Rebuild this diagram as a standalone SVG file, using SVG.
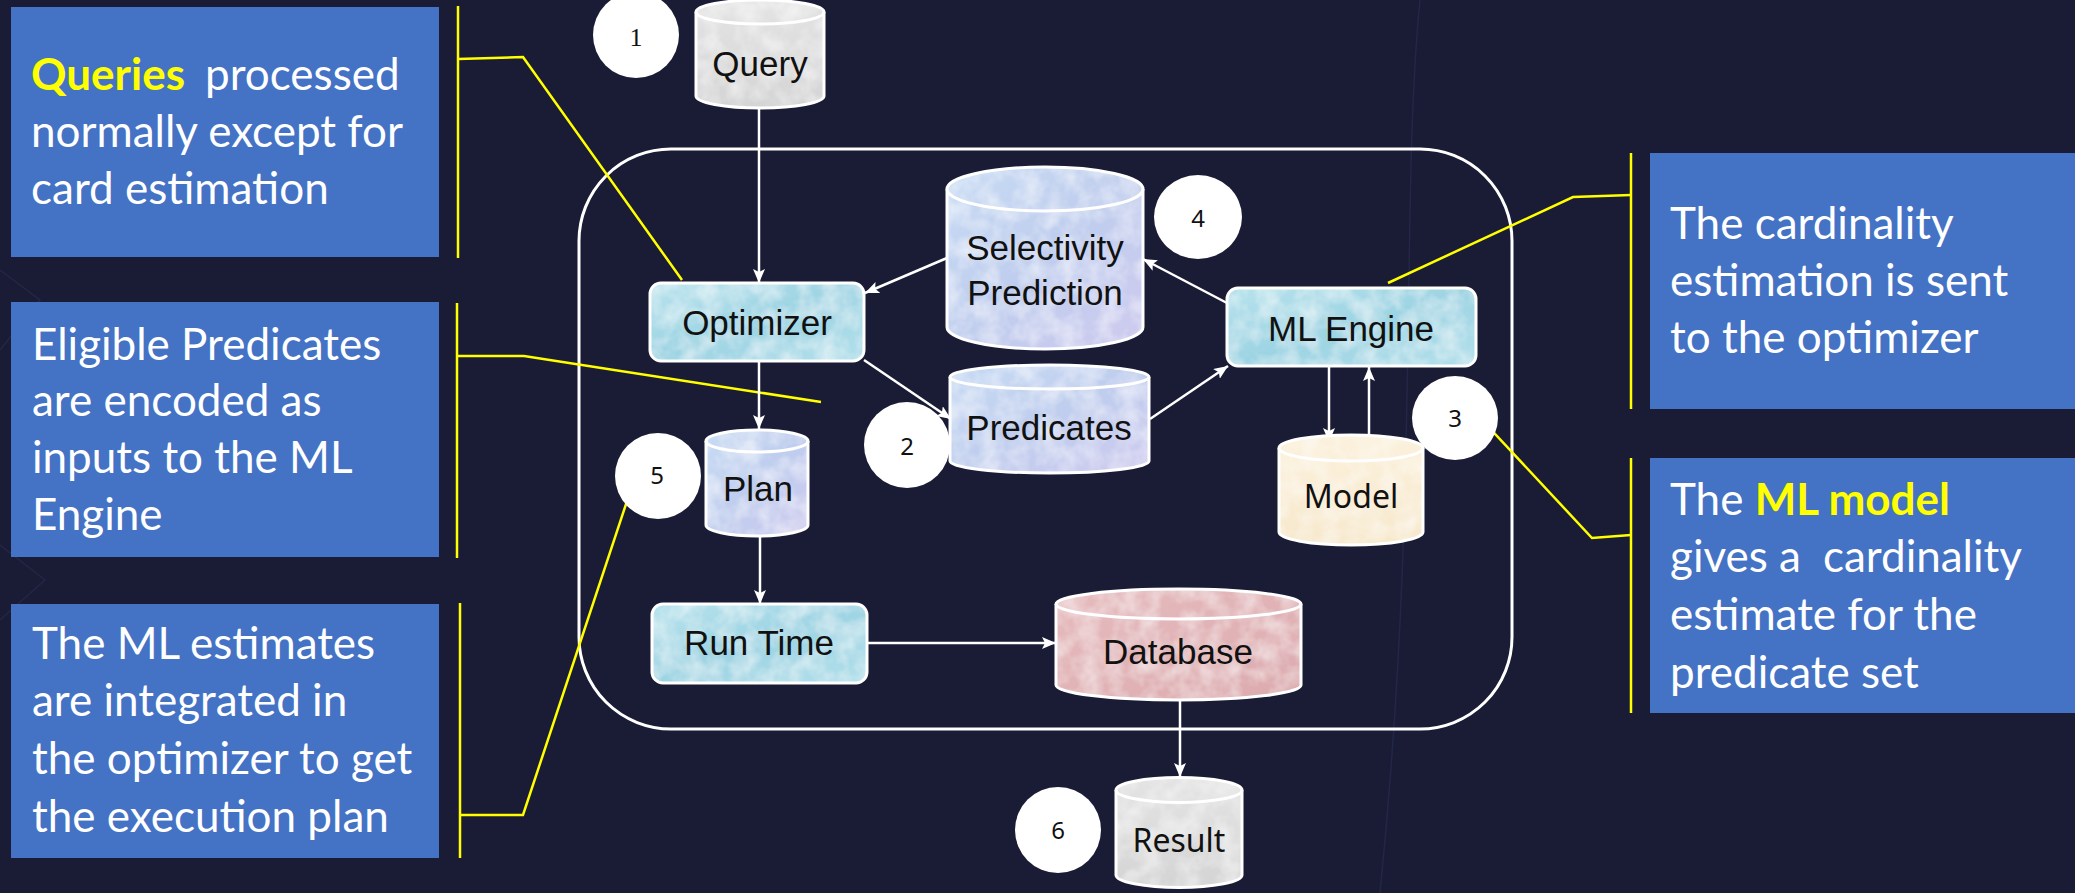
<svg xmlns="http://www.w3.org/2000/svg" width="2075" height="893" viewBox="0 0 2075 893">
<style>
.bg{fill:#1a1b35}
.box{fill:#4472C4}
.bt{font-family:Lato,"Liberation Sans",sans-serif;font-size:44px;fill:#ffffff}
.hl{fill:#FFFF00;font-weight:bold}
.yl{stroke:#FFFF00;stroke-width:2.5;fill:none}
.frame{fill:none;stroke:#ffffff;stroke-width:3}
.edge{stroke:#ffffff;stroke-width:2.5;fill:none;marker-end:url(#ah)}
.ol{fill:none;stroke:#ffffff;stroke-width:3}
.nt{font-family:"Liberation Sans",Arial,sans-serif;font-size:35px;fill:#111111;text-anchor:middle}
.nt2{font-family:"Noto Sans","Open Sans",sans-serif;font-size:32px;fill:#111111;text-anchor:middle}
.circ{fill:#ffffff}
.num{font-family:"Noto Sans",sans-serif;font-size:24px;fill:#111111;text-anchor:middle}
.num1{font-family:"Liberation Serif",serif;font-size:26px;fill:#111111;text-anchor:middle}
</style>
<defs>
<marker id="ah" viewBox="0 0 14 12" refX="14" refY="6" markerWidth="14" markerHeight="12" markerUnits="userSpaceOnUse" orient="auto">
<path d="M0,0 L14,6 L0,12 L3,6 Z" fill="#ffffff"/>
</marker>
<filter id="tex" x="0" y="0" width="100%" height="100%">
<feTurbulence type="fractalNoise" baseFrequency="0.05" numOctaves="3" seed="4" result="n"/>
<feColorMatrix in="n" type="matrix" values="0 0 0 0 1  0 0 0 0 1  0 0 0 0 1  0.9 0 0 0 -0.3" result="w"/>
<feComposite in="w" in2="SourceGraphic" operator="in" result="wi"/>
<feMerge><feMergeNode in="SourceGraphic"/><feMergeNode in="wi"/></feMerge>
</filter>
<linearGradient id="gAqua" x1="0" y1="0" x2="1" y2="1">
<stop offset="0" stop-color="#b8e3ed"/><stop offset="0.5" stop-color="#9dd4e3"/><stop offset="1" stop-color="#b3e0eb"/>
</linearGradient>
<linearGradient id="gLav" x1="0" y1="0" x2="1" y2="1">
<stop offset="0" stop-color="#c8dcf4"/><stop offset="0.5" stop-color="#bfcdee"/><stop offset="1" stop-color="#cfcbef"/>
</linearGradient>
<linearGradient id="gGray" x1="0" y1="0" x2="0" y2="1">
<stop offset="0" stop-color="#e4e4e4"/><stop offset="1" stop-color="#d4d4d4"/>
</linearGradient>
<linearGradient id="gCream" x1="0" y1="0" x2="0" y2="1">
<stop offset="0" stop-color="#fbf1dc"/><stop offset="1" stop-color="#f7e8cc"/>
</linearGradient>
<linearGradient id="gPink" x1="0" y1="0" x2="1" y2="1">
<stop offset="0" stop-color="#e6bcbf"/><stop offset="1" stop-color="#dcaaae"/>
</linearGradient>
</defs>

<rect class="bg" x="0" y="0" width="2075" height="893"/>
<g opacity="0.25" stroke="#3a4a7a" stroke-width="1.5" fill="none">
<path d="M0,350 L40,300 L0,270"/>
<path d="M0,620 L45,580 L0,545"/>
<path d="M1420,0 C1400,200 1420,500 1380,893"/>
</g>

<!-- callout boxes -->
<g id="note-queries">
<rect class="box" x="11" y="7" width="428" height="250"/>
<text class="bt" x="31" y="90"><tspan class="hl">Queries</tspan><tspan dx="20">processed</tspan></text>
<text class="bt" x="31" y="147">normally except for</text>
<text class="bt" x="31" y="204">card estimation</text>
</g>
<g id="note-predicates">
<rect class="box" x="11" y="302" width="428" height="255"/>
<text class="bt" x="32" y="360">Eligible Predicates</text>
<text class="bt" x="32" y="416">are encoded as</text>
<text class="bt" x="32" y="473">inputs to the ML</text>
<text class="bt" x="32" y="530">Engine</text>
</g>
<g id="note-estimates">
<rect class="box" x="11" y="604" width="428" height="254"/>
<text class="bt" x="32" y="659">The ML estimates</text>
<text class="bt" x="32" y="716">are integrated in</text>
<text class="bt" x="32" y="774">the optimizer to get</text>
<text class="bt" x="32" y="832">the execution plan</text>
</g>
<g id="note-cardinality">
<rect class="box" x="1650" y="153" width="425" height="256"/>
<text class="bt" x="1670" y="239">The cardinality</text>
<text class="bt" x="1670" y="296">estimation is sent</text>
<text class="bt" x="1670" y="353">to the optimizer</text>
</g>
<g id="note-mlmodel">
<rect class="box" x="1650" y="458" width="425" height="255"/>
<text class="bt" x="1670" y="515">The <tspan class="hl">ML model</tspan></text>
<text class="bt" x="1670" y="572">gives a<tspan dx="22">cardinality</tspan></text>
<text class="bt" x="1670" y="630">estimate for the</text>
<text class="bt" x="1670" y="688">predicate set</text>
</g>

<!-- frame -->
<rect class="frame" x="579" y="149" width="933" height="580" rx="92" ry="92"/>

<!-- callout lines -->
<g id="callouts">
<line class="yl" x1="458" y1="6" x2="458" y2="258"/>
<polyline class="yl" points="458,59 523,57 682,280"/>
<line class="yl" x1="457" y1="303" x2="457" y2="558"/>
<polyline class="yl" points="457,356 524,356 821,402"/>
<line class="yl" x1="460" y1="603" x2="460" y2="858"/>
<polyline class="yl" points="460,815 523,815 633,483"/>
<line class="yl" x1="1631" y1="153" x2="1631" y2="409"/>
<polyline class="yl" points="1631,195 1573,197 1388,283"/>
<line class="yl" x1="1631" y1="458" x2="1631" y2="713"/>
<polyline class="yl" points="1631,535 1592,538 1455,391"/>
</g>

<!-- connectors -->
<g id="connectors">
<line class="edge" x1="759" y1="108" x2="759" y2="283"/>
<line class="edge" x1="759" y1="361" x2="759" y2="429"/>
<line class="edge" x1="760" y1="536" x2="760" y2="604"/>
<line class="edge" x1="867" y1="643" x2="1056" y2="643"/>
<line class="edge" x1="1180" y1="700" x2="1180" y2="777"/>
<line class="edge" x1="864" y1="360" x2="951" y2="419"/>
<line class="edge" x1="947" y1="258" x2="865" y2="293"/>
<line class="edge" x1="1227" y1="303" x2="1143" y2="259"/>
<line class="edge" x1="1150" y1="419" x2="1228" y2="366"/>
<line class="edge" x1="1329" y1="367" x2="1329" y2="442"/>
<line class="edge" x1="1369" y1="438" x2="1369" y2="367"/>
</g>

<!-- number circles -->
<g id="step1"><ellipse class="circ" cx="636" cy="35" rx="43" ry="43"/><text class="num1" x="636" y="46">1</text></g>
<g id="step2"><ellipse class="circ" cx="907" cy="445" rx="43" ry="43"/><text class="num" x="907" y="455">2</text></g>
<g id="step3"><ellipse class="circ" cx="1455" cy="418" rx="43" ry="42"/><text class="num" x="1455" y="427">3</text></g>
<g id="step4"><ellipse class="circ" cx="1198" cy="217" rx="44" ry="42"/><text class="num" x="1198" y="227">4</text></g>
<g id="step5"><ellipse class="circ" cx="658" cy="476" rx="43" ry="43"/><text class="num" x="657" y="484">5</text></g>
<g id="step6"><ellipse class="circ" cx="1058" cy="830" rx="43" ry="43"/><text class="num" x="1058" y="839">6</text></g>

<!-- Query cylinder -->
<g id="query">
<path d="M696,12 L696,96 A64,12 0 0 0 824,96 L824,12 A64,12 0 0 0 696,12 Z" fill="url(#gGray)" filter="url(#tex)"/>
<path class="ol" d="M696,12 L696,96 A64,12 0 0 0 824,96 L824,12"/>
<ellipse class="ol" cx="760" cy="12" rx="64" ry="12"/>
<text class="nt" x="760" y="76" font-size="34">Query</text>
</g>

<!-- Optimizer -->
<g id="optimizer">
<rect x="650" y="283" width="214" height="78" rx="11" fill="url(#gAqua)" filter="url(#tex)"/>
<rect class="ol" x="650" y="283" width="214" height="78" rx="11"/>
<text class="nt" x="757" y="335" font-size="36">Optimizer</text>
</g>

<!-- Selectivity Prediction -->
<g id="selectivity">
<path d="M947,189 L947,327 A98,22 0 0 0 1143,327 L1143,189 A98,22 0 0 0 947,189 Z" fill="url(#gLav)" filter="url(#tex)"/>
<path class="ol" d="M947,189 L947,327 A98,22 0 0 0 1143,327 L1143,189"/>
<ellipse class="ol" cx="1045" cy="189" rx="98" ry="22"/>
<text class="nt" x="1045" y="260" font-size="36">Selectivity</text>
<text class="nt" x="1045" y="305" font-size="36">Prediction</text>
</g>

<!-- ML Engine -->
<g id="mlengine">
<rect x="1227" y="288" width="249" height="78" rx="11" fill="url(#gAqua)" filter="url(#tex)"/>
<rect class="ol" x="1227" y="288" width="249" height="78" rx="11"/>
<text class="nt" x="1351" y="341">ML Engine</text>
</g>

<!-- Predicates -->
<g id="predicates">
<path d="M950,377 L950,461 A99.5,12 0 0 0 1149,461 L1149,377 A99.5,12 0 0 0 950,377 Z" fill="url(#gLav)" filter="url(#tex)"/>
<path class="ol" d="M950,377 L950,461 A99.5,12 0 0 0 1149,461 L1149,377"/>
<ellipse class="ol" cx="1049.5" cy="377" rx="99.5" ry="12"/>
<text class="nt" x="1049" y="440">Predicates</text>
</g>

<!-- Plan -->
<g id="plan">
<path d="M706,441 L706,525 A51,11 0 0 0 808,525 L808,441 A51,11 0 0 0 706,441 Z" fill="url(#gLav)" filter="url(#tex)"/>
<path class="ol" d="M706,441 L706,525 A51,11 0 0 0 808,525 L808,441"/>
<ellipse class="ol" cx="757" cy="441" rx="51" ry="11"/>
<text class="nt" x="758" y="501">Plan</text>
</g>

<!-- Model -->
<g id="model">
<path d="M1279,448 L1279,532 A72,13 0 0 0 1423,532 L1423,448 A72,13 0 0 0 1279,448 Z" fill="url(#gCream)" filter="url(#tex)"/>
<path class="ol" d="M1279,448 L1279,532 A72,13 0 0 0 1423,532 L1423,448"/>
<ellipse class="ol" cx="1351" cy="448" rx="72" ry="13"/>
<text class="nt2" x="1351" y="508">Model</text>
</g>

<!-- Run Time -->
<g id="runtime">
<rect x="652" y="604" width="215" height="79" rx="11" fill="url(#gAqua)" filter="url(#tex)"/>
<rect class="ol" x="652" y="604" width="215" height="79" rx="11"/>
<text class="nt" x="759" y="655">Run Time</text>
</g>

<!-- Database -->
<g id="database">
<path d="M1056,604 L1056,685 A122.5,15 0 0 0 1301,685 L1301,604 A122.5,15 0 0 0 1056,604 Z" fill="url(#gPink)" filter="url(#tex)"/>
<path class="ol" d="M1056,604 L1056,685 A122.5,15 0 0 0 1301,685 L1301,604"/>
<ellipse class="ol" cx="1178.5" cy="604" rx="122.5" ry="15"/>
<text class="nt" x="1178" y="664">Database</text>
</g>

<!-- Result -->
<g id="result">
<path d="M1116,790 L1116,875 A63,12.5 0 0 0 1242,875 L1242,790 A63,12.5 0 0 0 1116,790 Z" fill="url(#gGray)" filter="url(#tex)"/>
<path class="ol" d="M1116,790 L1116,875 A63,12.5 0 0 0 1242,875 L1242,790"/>
<ellipse class="ol" cx="1179" cy="790" rx="63" ry="12.5"/>
<text class="nt2" x="1179" y="852">Result</text>
</g>
</svg>
